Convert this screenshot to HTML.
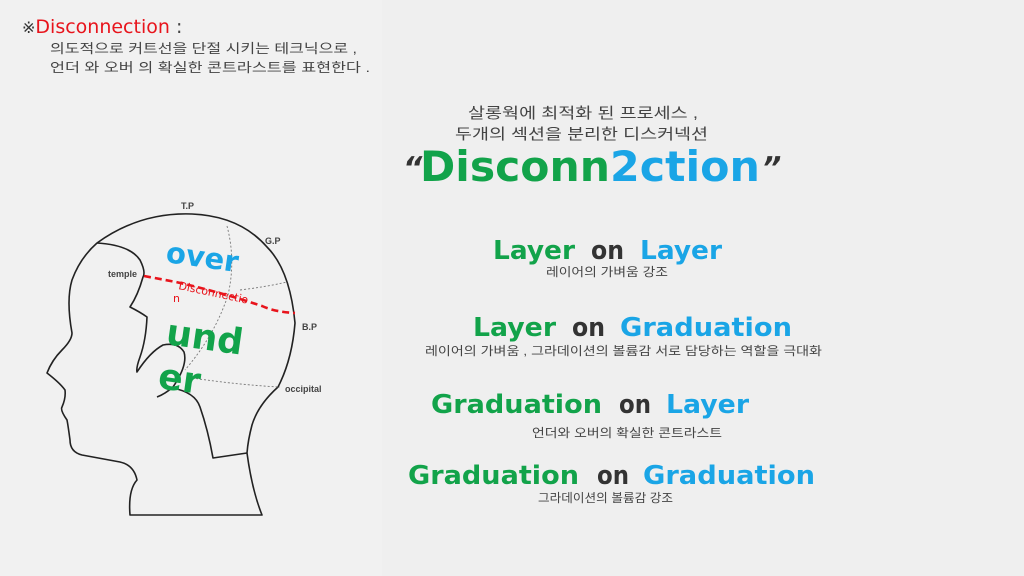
<!DOCTYPE html>
<html><head><meta charset="utf-8"><style>
html,body{margin:0;padding:0;background:#efefef;}
svg{display:block;}
.k{font-family:"Liberation Sans","Noto Sans CJK KR",sans-serif;fill:#444;}
.b{font-family:"DejaVu Sans","Liberation Sans",sans-serif;font-weight:bold;}
</style></head><body>
<svg width="1024" height="576" viewBox="0 0 1024 576" xmlns="http://www.w3.org/2000/svg">
<rect width="1024" height="576" fill="#efefef"/>
<rect x="0" y="0" width="382" height="576" fill="#f1f1f1"/>

<!-- header -->
<text x="22" y="33" font-size="19" font-family="DejaVu Sans,sans-serif"><tspan fill="#333" font-size="16">※</tspan><tspan fill="#e8141c">Disconnection</tspan><tspan fill="#444"> :</tspan></text>
<text class="k" x="50" y="53" font-size="13" textLength="307" lengthAdjust="spacingAndGlyphs">의도적으로 커트선을 단절 시키는 테크닉으로 ,</text>
<text class="k" x="50" y="72" font-size="13" textLength="320" lengthAdjust="spacingAndGlyphs">언더 와 오버 의 확실한 콘트라스트를 표현한다 .</text>

<!-- head -->
<g fill="none" stroke="#222" stroke-width="1.6" stroke-linejoin="round">
<path d="M97,243 Q140,212 192,214 Q240,216 267,247 Q290,270 295,323 Q292,360 278,387 Q258,405 252,425 Q248,440 247,453 Q252,490 262,515 L130,515 Q128,490 137,480 Q134,465 120,462 L82,455 Q70,452 70,440 Q68,425 67,420 Q60,410 62,407 Q66,398 65,390 Q60,383 47,373 Q52,360 62,350 Q72,340 72,333 Q66,300 72,280 Q80,258 97,243"/>
<path d="M97,243 Q130,245 140,260 Q146,272 143,277 Q138,295 130,307 Q140,312 147,317 Q146,340 140,357 Q136,368 137,372 Q150,352 163,345 Q178,342 184,352 Q188,365 173,387 Q165,394 157,397"/>
<path d="M172,388 Q195,392 200,407 Q208,430 213,458 L247,453"/>
</g>
<g fill="none" stroke="#777" stroke-width="0.9" stroke-dasharray="2,2">
<path d="M227,226 Q236,260 228,295 Q215,335 185,370"/>
<path d="M240,290 Q265,287 287,282"/>
<path d="M192,378 Q240,385 280,387"/>
</g>
<path d="M144,276 L176,282 Q220,292 262,306 Q275,312 295,313" fill="none" stroke="#e8141c" stroke-width="2.6" stroke-dasharray="7,4"/>
<g font-family="Liberation Sans,sans-serif" font-weight="bold" font-size="9" fill="#444">
<text x="181" y="209">T.P</text>
<text x="265" y="244">G.P</text>
<text x="108" y="277">temple</text>
<text x="302" y="330">B.P</text>
<text x="285" y="392">occipital</text>
</g>
<text class="b" x="165" y="262" font-size="29" fill="#1aa5e6" transform="rotate(8 165 262)">over</text>
<text x="178" y="289" font-size="11" fill="#e8141c" font-family="DejaVu Sans,sans-serif" transform="rotate(12 178 289)">Disconnectio</text>
<text x="173" y="302" font-size="11" fill="#e8141c" font-family="DejaVu Sans,sans-serif">n</text>
<text class="b" x="165" y="344" font-size="36" fill="#12a34a" transform="rotate(8 165 344)">und</text>
<text class="b" x="157" y="388" font-size="36" fill="#12a34a" transform="rotate(8 157 388)">er</text>

<!-- right -->
<text class="k" x="468" y="118" font-size="15" textLength="230" lengthAdjust="spacingAndGlyphs">살롱웍에 최적화 된 프로세스 ,</text>
<text class="k" x="455" y="139" font-size="15" textLength="253" lengthAdjust="spacingAndGlyphs">두개의 섹션을 분리한 디스커넥션</text>
<text class="b" x="403" y="178" font-size="30" fill="#333" font-style="italic">“</text>
<text class="b" x="420" y="181" font-size="42" fill="#12a34a" textLength="190" lengthAdjust="spacingAndGlyphs">Disconn</text>
<text class="b" x="610" y="181" font-size="42" fill="#1aa5e6" textLength="150" lengthAdjust="spacingAndGlyphs">2ction</text>
<text class="b" x="762" y="178" font-size="30" fill="#333" font-style="italic">”</text>

<g class="b" font-size="26">
<text x="493" y="259" fill="#12a34a" textLength="82" lengthAdjust="spacingAndGlyphs">Layer</text>
<text x="591" y="259" fill="#333" textLength="33" lengthAdjust="spacingAndGlyphs">on</text>
<text x="640" y="259" fill="#1aa5e6" textLength="82" lengthAdjust="spacingAndGlyphs">Layer</text>

<text x="473" y="336" fill="#12a34a" textLength="83" lengthAdjust="spacingAndGlyphs">Layer</text>
<text x="572" y="336" fill="#333" textLength="33" lengthAdjust="spacingAndGlyphs">on</text>
<text x="620" y="336" fill="#1aa5e6" textLength="172" lengthAdjust="spacingAndGlyphs">Graduation</text>

<text x="431" y="413" fill="#12a34a" textLength="171" lengthAdjust="spacingAndGlyphs">Graduation</text>
<text x="619" y="413" fill="#333" textLength="32" lengthAdjust="spacingAndGlyphs">on</text>
<text x="666" y="413" fill="#1aa5e6" textLength="83" lengthAdjust="spacingAndGlyphs">Layer</text>

<text x="408" y="484" fill="#12a34a" textLength="171" lengthAdjust="spacingAndGlyphs">Graduation</text>
<text x="597" y="484" fill="#333" textLength="32" lengthAdjust="spacingAndGlyphs">on</text>
<text x="643" y="484" fill="#1aa5e6" textLength="172" lengthAdjust="spacingAndGlyphs">Graduation</text>
</g>
<g class="k" font-size="12">
<text x="546" y="276" textLength="122" lengthAdjust="spacingAndGlyphs">레이어의 가벼움 강조</text>
<text x="425" y="355" textLength="397" lengthAdjust="spacingAndGlyphs">레이어의 가벼움 , 그라데이션의 볼륨감 서로 담당하는 역할을 극대화</text>
<text x="532" y="437" textLength="190" lengthAdjust="spacingAndGlyphs">언더와 오버의 확실한 콘트라스트</text>
<text x="538" y="502" textLength="135" lengthAdjust="spacingAndGlyphs">그라데이션의 볼륨감 강조</text>
</g>
</svg>
</body></html>
